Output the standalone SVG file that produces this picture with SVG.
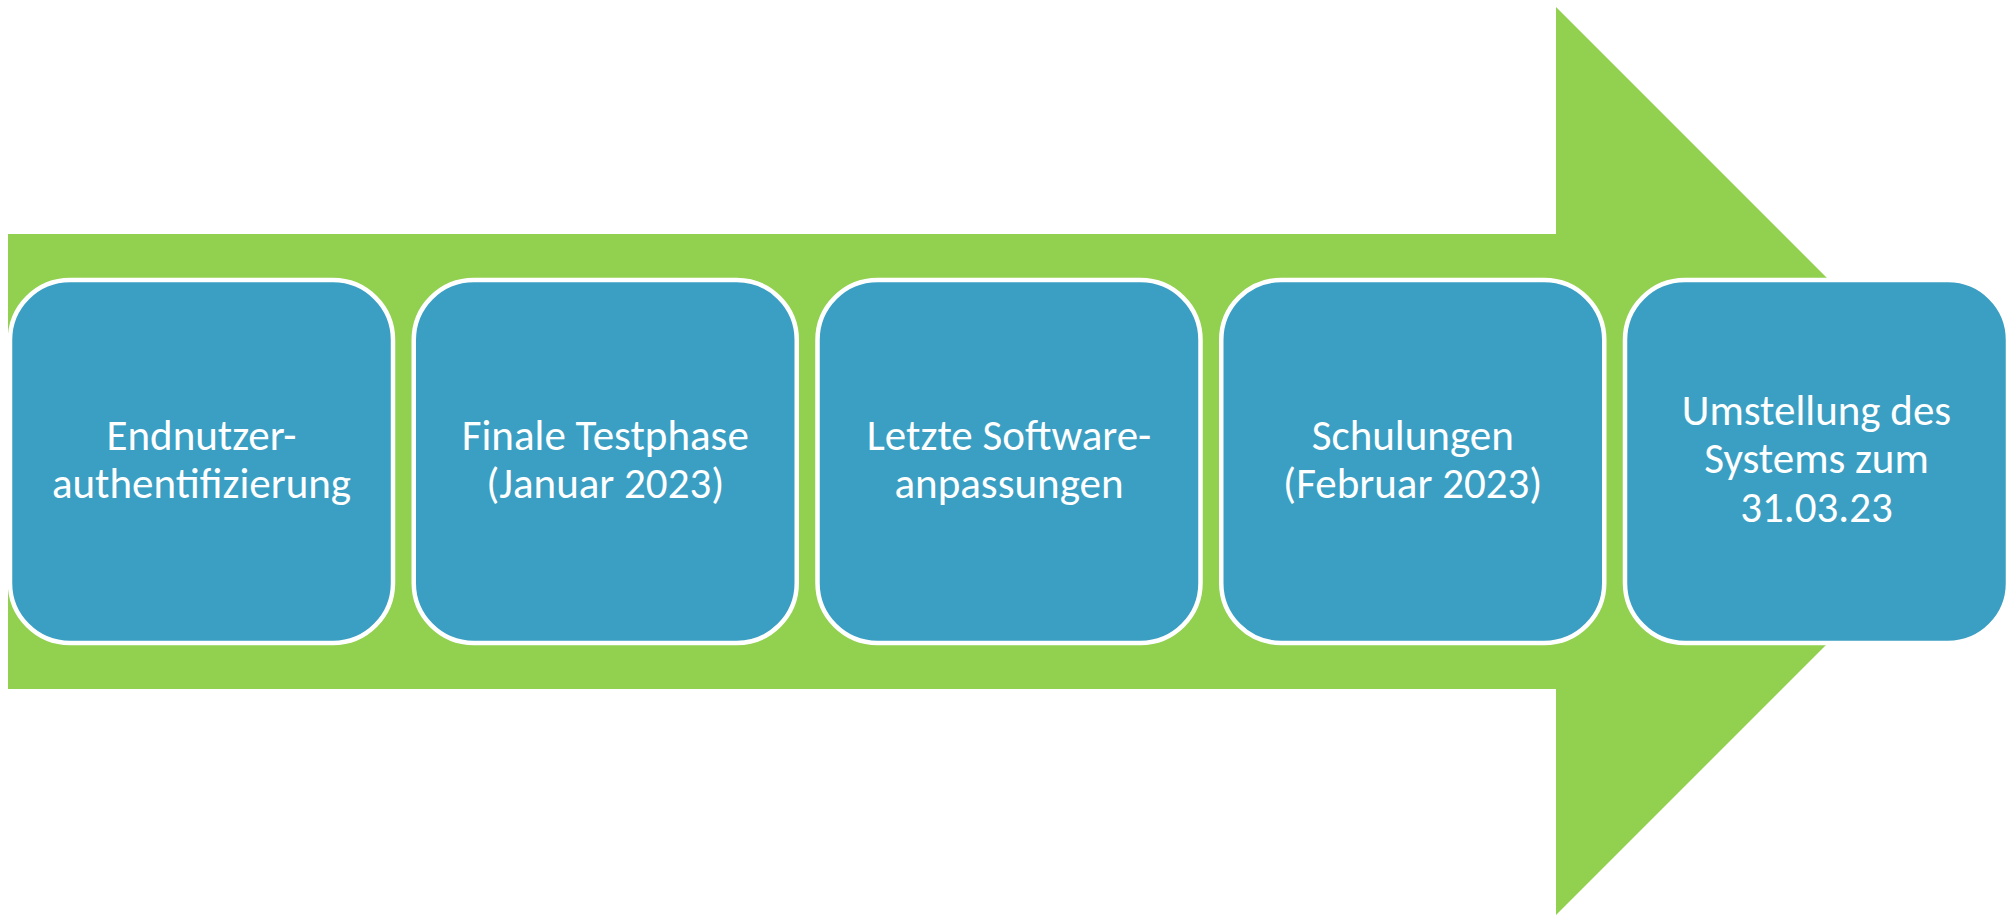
<svg xmlns="http://www.w3.org/2000/svg" width="2015" height="915" viewBox="0 0 2015 915">
<style>
.box{fill:#3A9FC3;stroke:#FFFFFF;stroke-width:4.5}
.lbl{font-family:Carlito,Lato,"Open Sans",sans-serif;font-size:43px;fill:#FFFFFF;text-anchor:middle}
</style>
<rect width="2015" height="915" fill="#FFFFFF"/>
<g id="arrow">
<polygon points="8,234 1556,234 1556,7 2010,461 1556,915 1556,689 8,689" fill="#92D050"/>
</g>
<g id="connectors"></g>
<g id="node1">
<rect class="box" x="10" y="280" width="383" height="363" rx="60"/>
<text class="lbl" x="201.5" y="450">Endnutzer-</text>
<text class="lbl" x="201.5" y="498">authentifizierung</text>
</g>
<g id="node2">
<rect class="box" x="413.75" y="280" width="383" height="363" rx="60"/>
<text class="lbl" x="605.25" y="450">Finale Testphase</text>
<text class="lbl" x="605.25" y="498">(Januar 2023)</text>
</g>
<g id="node3">
<rect class="box" x="817.5" y="280" width="383" height="363" rx="60"/>
<text class="lbl" x="1009" y="450">Letzte Software-</text>
<text class="lbl" x="1009" y="498">anpassungen</text>
</g>
<g id="node4">
<rect class="box" x="1221.25" y="280" width="383" height="363" rx="60"/>
<text class="lbl" x="1412.75" y="450">Schulungen</text>
<text class="lbl" x="1412.75" y="498">(Februar 2023)</text>
</g>
<g id="node5">
<rect class="box" x="1625" y="280" width="383" height="363" rx="60"/>
<text class="lbl" x="1816.5" y="425">Umstellung des</text>
<text class="lbl" x="1816.5" y="473">Systems zum</text>
<text class="lbl" x="1816.5" y="522">31.03.23</text>
</g>
</svg>
